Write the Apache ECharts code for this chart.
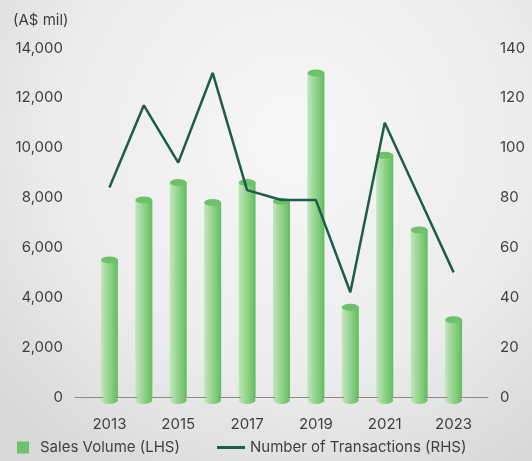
<!DOCTYPE html>
<html>
<head>
<meta charset="utf-8">
<script src="https://cdn.jsdelivr.net/npm/echarts@6/dist/echarts.min.js"></script>
<style>
html,body{margin:0;padding:0;}
#chart{width:532px;height:461px;}
</style>
</head>
<body>
<div id="chart"></div>
<script>
var years = [2013, 2014, 2015, 2016, 2017, 2018, 2019, 2020, 2021, 2022, 2023];
var salesVolume = [5500, 7900, 8600, 7800, 8600, 7850, 13000, 3600, 9700, 6700, 3100];
var transactions = [84, 117, 94, 130, 83, 79, 79, 42, 110, 80, 50];
var shownYearLabels = [2013, 2015, 2017, 2019, 2021, 2023];

var FONT = 'Inter, "Noto Sans", sans-serif';
var TXT = '#3f3f3f';
var chart = echarts.init(document.getElementById('chart'));

function pairs(vals) { return years.map(function (y, i) { return [y, vals[i]]; }); }

var barGrad = new echarts.graphic.LinearGradient(0, 0, 1, 0, [
  {offset: 0, color: '#c3e6bd'},
  {offset: 0.45, color: '#96d58f'},
  {offset: 1, color: '#62bd5e'}
]);

chart.setOption({
  backgroundColor: new echarts.graphic.RadialGradient(0.55, 0.3, 0.85, [
    {offset: 0, color: '#f7f7f7'},
    {offset: 0.6, color: '#ececec'},
    {offset: 1, color: '#d6d8d9'}
  ]),
  textStyle: {fontFamily: FONT},
  title: {
    text: '(A$ mil)', left: 8, top: 8,
    textStyle: {fontSize: 15, fontWeight: 'normal', color: TXT, fontFamily: FONT}
  },
  grid: {left: 75, right: 44, top: 48, bottom: 64},
  xAxis: {
    type: 'value', min: 2012, max: 2024, interval: 1,
    splitLine: {show: false},
    axisTick: {show: false},
    axisLine: {show: true, onZero: false, lineStyle: {color: '#8a8a8a', width: 1}},
    axisLabel: {
      margin: 20, fontSize: 15, color: TXT, fontFamily: FONT,
      formatter: function (v) { return shownYearLabels.indexOf(v) >= 0 ? String(v) : ''; }
    }
  },
  yAxis: [{
    type: 'value', min: 0, max: 14000, interval: 2000,
    splitLine: {show: false}, axisLine: {show: false}, axisTick: {show: false},
    axisLabel: {
      margin: 12, fontSize: 15, color: TXT, fontFamily: FONT,
      formatter: function (v) { return v.toLocaleString('en-US'); }
    }
  }, {
    type: 'value', min: 0, max: 140, interval: 20, position: 'right',
    splitLine: {show: false}, axisLine: {show: false}, axisTick: {show: false},
    axisLabel: {margin: 12, fontSize: 15, color: TXT, fontFamily: FONT}
  }],
  legend: [{
    data: [{name: 'Sales Volume (LHS)', itemStyle: {color: '#6cc26a'}}],
    left: 12, bottom: 1, itemWidth: 12, itemHeight: 12, icon: 'rect',
    textStyle: {fontSize: 15, color: TXT, fontFamily: FONT, padding: [0, 0, 0, 6]}
  }, {
    data: ['Number of Transactions (RHS)'],
    left: 212, bottom: 1, itemWidth: 28, itemHeight: 3, icon: 'rect',
    textStyle: {fontSize: 15, color: TXT, fontFamily: FONT, padding: [0, 0, 0, 0]}
  }],
  series: [{
    name: 'Sales Volume (LHS)',
    type: 'bar',
    data: pairs(salesVolume),
    barWidth: 17,
    itemStyle: {color: barGrad},
    z: 2
  }, {
    name: 'capBottom',
    type: 'scatter',
    data: years.map(function (y) { return [y, 0]; }),
    symbol: 'circle', symbolSize: [17, 8], symbolOffset: [0, 3],
    itemStyle: {color: barGrad, opacity: 1},
    silent: true, z: 1
  }, {
    name: 'capTop',
    type: 'scatter',
    data: pairs(salesVolume),
    symbol: 'circle', symbolSize: [17, 7],
    itemStyle: {color: '#6cc268', opacity: 1},
    silent: true, z: 3
  }, {
    name: 'Number of Transactions (RHS)',
    type: 'line',
    yAxisIndex: 1,
    data: pairs(transactions),
    symbol: 'none',
    lineStyle: {color: '#1e5c4b', width: 2.5},
    itemStyle: {color: '#1e5c4b'},
    z: 5
  }]
});
</script>
</body>
</html>
